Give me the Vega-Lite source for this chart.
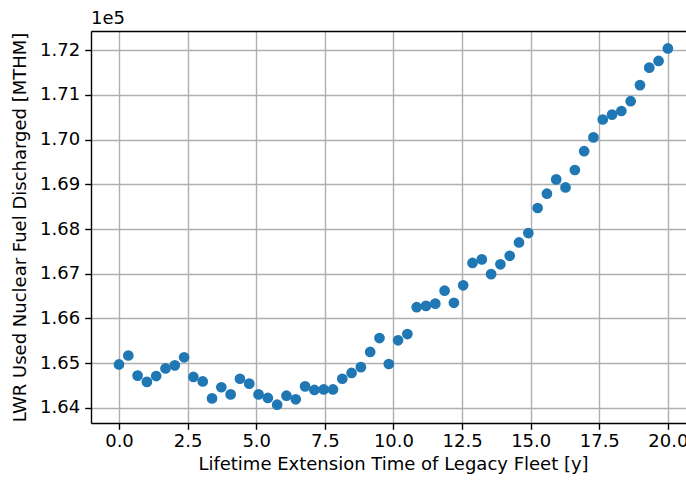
{
  "$schema": "https://vega.github.io/schema/vega-lite/v6.json",
  "autosize": "none",
  "width": 595,
  "height": 392,
  "padding": {"left": 91, "top": 31, "right": 0, "bottom": 62},
  "background": "white",
  "config": {
    "view": {"stroke": null},
    "font": "DejaVu Sans",
    "axis": {
      "labelFont": "DejaVu Sans",
      "labelFontSize": 18,
      "labelColor": "black",
      "titleFont": "DejaVu Sans",
      "titleFontSize": 18,
      "titleFontWeight": "normal",
      "titleColor": "black",
      "domainColor": "black",
      "domainWidth": 1.4,
      "tickColor": "black",
      "tickWidth": 1.4,
      "tickSize": 6.3,
      "gridColor": "#b0b0b0",
      "gridWidth": 1.4,
      "gridOpacity": 1
    }
  },
  "title": {
    "text": "1e5",
    "anchor": "start",
    "frame": "group",
    "font": "DejaVu Sans",
    "fontSize": 18,
    "fontWeight": "normal",
    "color": "black",
    "offset": 3
  },
  "data": {
    "values": [
      {"t": 0.0, "fuel": 164970},
      {"t": 0.339, "fuel": 165170},
      {"t": 0.678, "fuel": 164720},
      {"t": 1.017, "fuel": 164580},
      {"t": 1.356, "fuel": 164710},
      {"t": 1.695, "fuel": 164880},
      {"t": 2.034, "fuel": 164950},
      {"t": 2.373, "fuel": 165130},
      {"t": 2.712, "fuel": 164690},
      {"t": 3.051, "fuel": 164590},
      {"t": 3.39, "fuel": 164210},
      {"t": 3.729, "fuel": 164460},
      {"t": 4.068, "fuel": 164300},
      {"t": 4.407, "fuel": 164650},
      {"t": 4.746, "fuel": 164540},
      {"t": 5.085, "fuel": 164300},
      {"t": 5.424, "fuel": 164220},
      {"t": 5.763, "fuel": 164070},
      {"t": 6.102, "fuel": 164270},
      {"t": 6.441, "fuel": 164190},
      {"t": 6.78, "fuel": 164480},
      {"t": 7.119, "fuel": 164400},
      {"t": 7.458, "fuel": 164410},
      {"t": 7.797, "fuel": 164410},
      {"t": 8.136, "fuel": 164650},
      {"t": 8.475, "fuel": 164780},
      {"t": 8.814, "fuel": 164910},
      {"t": 9.153, "fuel": 165250},
      {"t": 9.492, "fuel": 165560},
      {"t": 9.831, "fuel": 164980},
      {"t": 10.169, "fuel": 165510},
      {"t": 10.508, "fuel": 165650},
      {"t": 10.847, "fuel": 166250},
      {"t": 11.186, "fuel": 166280},
      {"t": 11.525, "fuel": 166330},
      {"t": 11.864, "fuel": 166620},
      {"t": 12.203, "fuel": 166350},
      {"t": 12.542, "fuel": 166740},
      {"t": 12.881, "fuel": 167240},
      {"t": 13.22, "fuel": 167320},
      {"t": 13.559, "fuel": 166990},
      {"t": 13.898, "fuel": 167210},
      {"t": 14.237, "fuel": 167400},
      {"t": 14.576, "fuel": 167700},
      {"t": 14.915, "fuel": 167910},
      {"t": 15.254, "fuel": 168470},
      {"t": 15.593, "fuel": 168790},
      {"t": 15.932, "fuel": 169110},
      {"t": 16.271, "fuel": 168930},
      {"t": 16.61, "fuel": 169320},
      {"t": 16.949, "fuel": 169740},
      {"t": 17.288, "fuel": 170050},
      {"t": 17.627, "fuel": 170450},
      {"t": 17.966, "fuel": 170560},
      {"t": 18.305, "fuel": 170640},
      {"t": 18.644, "fuel": 170860},
      {"t": 18.983, "fuel": 171220},
      {"t": 19.322, "fuel": 171610},
      {"t": 19.661, "fuel": 171760},
      {"t": 20.0, "fuel": 172040}
    ]
  },
  "layer": [
    {
      "mark": {"type": "point", "filled": true, "size": 115, "color": "#1f77b4", "opacity": 1},
      "encoding": {
        "x": {
          "field": "t",
          "type": "quantitative",
          "scale": {"domain": [-1.02, 20.66], "nice": false, "zero": false},
          "axis": {
            "values": [0, 2.5, 5, 7.5, 10, 12.5, 15, 17.5, 20],
            "format": ".1f",
            "labelPadding": 3,
            "title": "Lifetime Extension Time of Legacy Fleet [y]",
            "titleX": 302,
            "titlePadding": 5
          }
        },
        "y": {
          "field": "fuel",
          "type": "quantitative",
          "scale": {"domain": [163660, 172430], "nice": false, "zero": false},
          "axis": {
            "values": [164000, 165000, 166000, 167000, 168000, 169000, 170000, 171000, 172000],
            "labelExpr": "format(datum.value / 100000, '.2f')",
            "labelPadding": 5,
            "title": "LWR Used Nuclear Fuel Discharged [MTHM]",
            "titlePadding": 10
          }
        }
      }
    },
    {
      "mark": {"type": "point", "filled": true, "opacity": 0},
      "encoding": {
        "x": {
          "field": "t",
          "type": "quantitative",
          "axis": {"orient": "top", "labels": false, "ticks": false, "grid": false, "domain": true, "title": null}
        },
        "y": {"field": "fuel", "type": "quantitative"}
      }
    }
  ],
  "resolve": {"axis": {"x": "independent"}}
}
